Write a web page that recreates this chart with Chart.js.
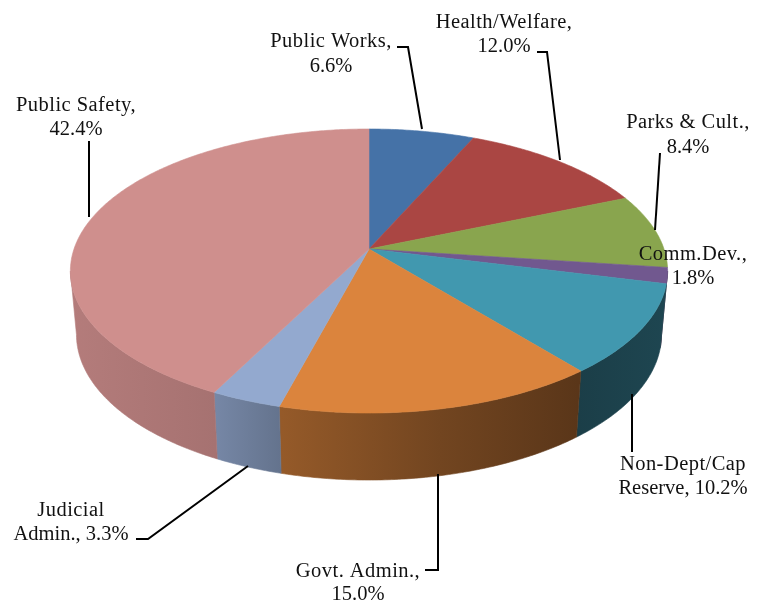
<!DOCTYPE html>
<html>
<head>
<meta charset="utf-8">
<title>Expenditures by function</title>
<script src="https://cdn.jsdelivr.net/npm/chart.js@4"></script>
<style>
    html, body { margin: 0; padding: 0; background: #fff; }
    canvas { display: block; }
</style>
</head>
<body>
<canvas id="budgetPie" width="759" height="602"></canvas>
<script>
const categories = ['Public Works', 'Health/Welfare', 'Parks & Cult.', 'Comm.Dev.', 'Non-Dept/Cap Reserve', 'Govt. Admin.', 'Judicial Admin.', 'Public Safety'];
const values = [6.6, 12.0, 8.4, 1.8, 10.2, 15.0, 3.3, 42.4];
// how many words of each label stay on its first line
const firstLineWords = [2, 1, 3, 1, 1, 2, 1, 2];
const sliceColors = ['#4572A7', '#AA4643', '#89A54E', '#71588F', '#4198AF', '#DB843D', '#93A9CF', '#CF8F8D'];

// Tilted disc: the top face is a perspective view of a circle, so the hub sits above the ellipse middle
const disc = { x: 369, y: 249, rx: 295, ry: 138.6, tilt: 0.155 };
const base = { x: 369, y: 312, rx: 289, ry: 142, tilt: 0.155 };

// Side wall lighting, left to right: [x, brightness]
const wallLight = [[70, 0.87], [215, 0.8], [281, 0.68], [440, 0.52], [578, 0.41], [668, 0.46]];

// Label centre x and the two baselines
const labelSpots = [[331, 47, 72], [504, 28, 52], [688, 128, 153], [693, 260, 284], [683, 470, 494], [358, 577, 600], [71, 516, 540], [76, 111, 135]];
// Leader lines; Comm.Dev. has none
const leaders = [
    [[397, 47], [408, 47], [422, 129]],
    [[537, 52], [547, 52], [560, 160]],
    [[660, 153], [655, 230]],
    [],
    [[632, 394], [632, 452]],
    [[425, 570], [438, 570], [438, 474]],
    [[136, 539], [148, 539], [248, 466]],
    [[89, 141], [89, 217]]
];

function rimPoint(ring, t) {
    const d = 1 - ring.tilt * Math.sin(t);
    return [ring.x + ring.rx * Math.cos(t) / d, ring.y + ring.ry * Math.sin(t) / d];
}

function traceRim(ctx, ring, from, to) {
    const steps = Math.max(2, Math.ceil(Math.abs(to - from) / 0.01));
    for (let i = 0; i <= steps; i++) {
        const p = rimPoint(ring, from + (to - from) * i / steps);
        ctx.lineTo(p[0], p[1]);
    }
}

function wallGradient(ctx, color) {
    const r = parseInt(color.slice(1, 3), 16), g = parseInt(color.slice(3, 5), 16), b = parseInt(color.slice(5, 7), 16);
    const x0 = wallLight[0][0], x1 = wallLight[wallLight.length - 1][0];
    const grad = ctx.createLinearGradient(x0, 0, x1, 0);
    wallLight.forEach(([x, k]) => {
        grad.addColorStop((x - x0) / (x1 - x0), `rgb(${r * k}, ${g * k}, ${b * k})`);
    });
    return grad;
}

function labelLines(i) {
    const words = `${categories[i]}, ${values[i].toFixed(1)}%`.split(' ');
    return [words.slice(0, firstLineWords[i]).join(' '), words.slice(firstLineWords[i]).join(' ')];
}

const pie3d = {
    id: 'pie3d',
    beforeDatasetsDraw(chart) {
        const ctx = chart.ctx;
        const arcs = chart.getDatasetMeta(0).data;
        // the wall is only visible between the two silhouette tangents
        const wallFrom = Math.asin(disc.tilt), wallTo = Math.PI - wallFrom;

        ctx.save();
        ctx.lineWidth = 0.6;
        arcs.forEach((arc, i) => {
            const from = Math.max(arc.startAngle, wallFrom), to = Math.min(arc.endAngle, wallTo);
            if (to <= from) return;
            const fill = wallGradient(ctx, sliceColors[i]);
            ctx.beginPath();
            traceRim(ctx, disc, from, to);
            traceRim(ctx, base, to, from);
            ctx.closePath();
            ctx.fillStyle = fill;
            ctx.strokeStyle = fill;
            ctx.fill();
            ctx.stroke();
        });
        arcs.forEach((arc, i) => {
            ctx.beginPath();
            ctx.moveTo(disc.x, disc.y);
            traceRim(ctx, disc, arc.startAngle, arc.endAngle);
            ctx.closePath();
            ctx.fillStyle = sliceColors[i];
            ctx.strokeStyle = sliceColors[i];
            ctx.fill();
            ctx.stroke();
        });
        ctx.restore();
        return false; // faces are done, skip the flat pie
    },
    afterDraw(chart) {
        const ctx = chart.ctx;
        ctx.save();
        ctx.strokeStyle = '#000';
        ctx.lineWidth = 2;
        ctx.lineJoin = 'miter';
        leaders.forEach(path => {
            if (!path.length) return;
            ctx.beginPath();
            path.forEach(([x, y]) => ctx.lineTo(x, y));
            ctx.stroke();
        });
        ctx.fillStyle = '#111';
        ctx.font = '20.5px "Liberation Serif"';
        ctx.textAlign = 'center';
        ctx.textBaseline = 'alphabetic';
        categories.forEach((name, i) => {
            const [x, y1, y2] = labelSpots[i];
            labelLines(i).forEach((line, n) => {
                // lines of plain words run a little wide in this face
                ctx.letterSpacing = /\d/.test(line) ? '0px' : '0.45px';
                ctx.fillText(line, x, n ? y2 : y1);
            });
        });
        ctx.restore();
    }
};

const budgetCtx = document.getElementById('budgetPie').getContext('2d');
const budgetPie = new Chart(budgetCtx, {
    type: 'pie',
    data: {
        labels: categories,
        datasets: [{
            data: values,
            backgroundColor: sliceColors,
            borderWidth: 0
        }]
    },
    options: {
        responsive: false,
        animation: false,
        plugins: {
            legend: { display: false },
            tooltip: { enabled: false }
        }
    },
    plugins: [pie3d]
});
</script>
</body>
</html>
